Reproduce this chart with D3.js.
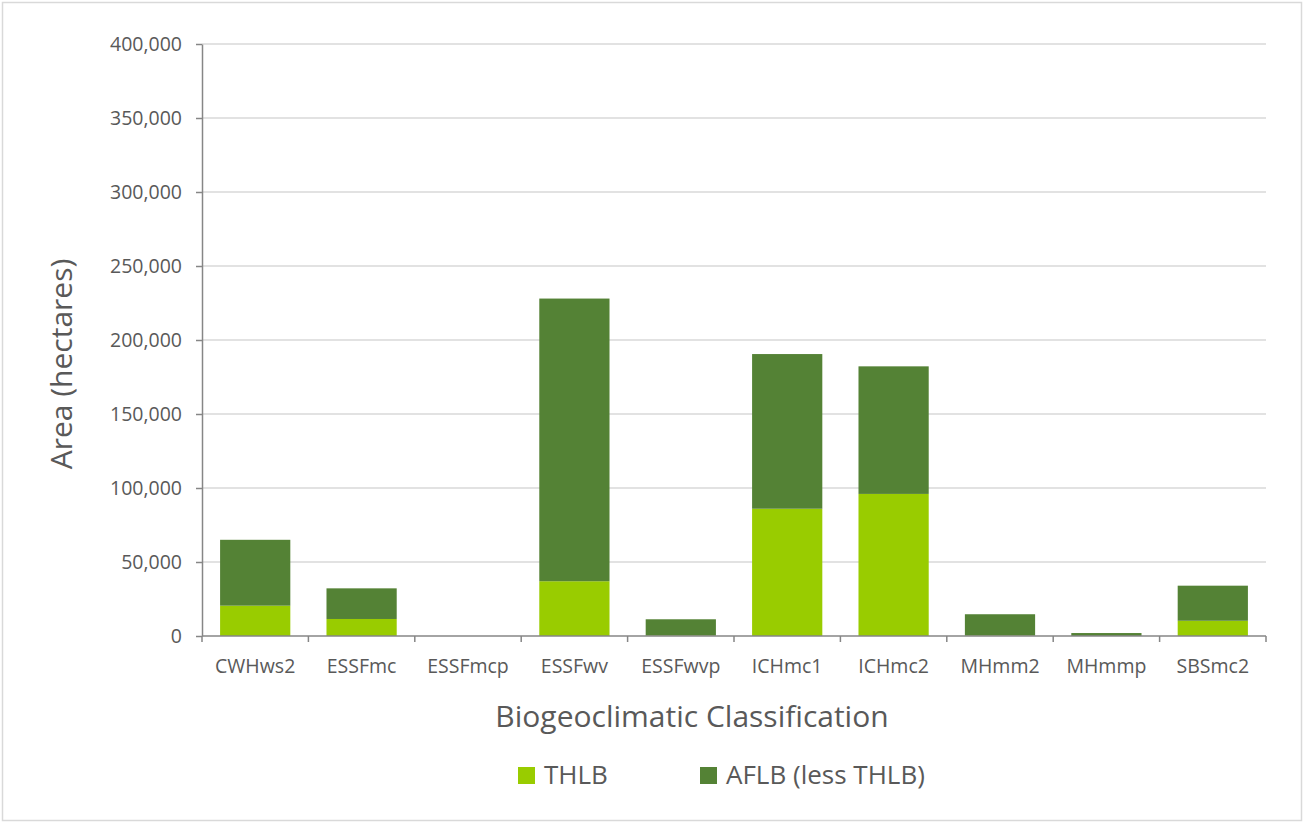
<!DOCTYPE html>
<html>
<head>
<meta charset="utf-8">
<script src="https://cdn.jsdelivr.net/npm/d3@7"></script>
<style>
  html, body { margin: 0; padding: 0; background: #fff; }
  svg { display: block; }
  text { font-family: "Open Sans", "Noto Sans", sans-serif; fill: #595959; }
</style>
</head>
<body>
<svg id="chart" width="1304" height="823"></svg>
<script>
// Biogeoclimatic zones and land-base areas (hectares)
const categories = ["CWHws2", "ESSFmc", "ESSFmcp", "ESSFwv", "ESSFwvp", "ICHmc1", "ICHmc2", "MHmm2", "MHmmp", "SBSmc2"];
const thlb = [20500, 11500, 0, 37000, 300, 86000, 96000, 300, 0, 10300];
const aflbLessThlb = [44500, 20700, 0, 191000, 11000, 104500, 86200, 14400, 2000, 23700];
const seriesNames = ["THLB", "AFLB (less THLB)"];
const seriesColors = ["#99cc00", "#548235"];
const yTicks = [0, 50000, 100000, 150000, 200000, 250000, 300000, 350000, 400000];

const svg = d3.select("#chart");
const W = 1304, H = 823;
const margin = { left: 202, right: 38, top: 44, bottom: 187 };
const plotW = W - margin.left - margin.right;
const plotH = H - margin.top - margin.bottom;

// outer frame
svg.append("rect")
  .attr("x", 2.5).attr("y", 2.5)
  .attr("width", W - 5).attr("height", H - 5)
  .attr("fill", "#fff").attr("stroke", "#d9d9d9").attr("stroke-width", 1.5);

const x = d3.scaleBand().domain(categories).range([0, plotW]).paddingInner(0.34).paddingOuter(0.17);
const y = d3.scaleLinear().domain([0, 400000]).range([plotH, 0]);

const g = svg.append("g").attr("transform", `translate(${margin.left},${margin.top})`);

// gridlines
g.append("g").selectAll("line").data(yTicks.filter(d => d > 0)).join("line")
  .attr("x1", 0).attr("x2", plotW)
  .attr("y1", d => y(d)).attr("y2", d => y(d))
  .attr("stroke", "#d9d9d9").attr("stroke-width", 1.5);

// stacked bars
const rows = categories.map((c, i) => ({ cat: c, THLB: thlb[i], "AFLB (less THLB)": aflbLessThlb[i] }));
const stacked = d3.stack().keys(seriesNames)(rows);

g.append("g").selectAll("g").data(stacked).join("g")
  .attr("fill", (d, i) => seriesColors[i])
  .selectAll("rect").data(d => d).join("rect")
  .attr("x", d => x(d.data.cat))
  .attr("width", x.bandwidth())
  .attr("y", d => y(d[1]))
  .attr("height", d => Math.max(0, y(d[0]) - y(d[1])));

// y axis
const yAxis = g.append("g")
  .call(d3.axisLeft(y).tickValues(yTicks).tickFormat(d3.format(",")).tickSize(6).tickSizeOuter(0));
yAxis.select(".domain").attr("stroke", "#868686").attr("stroke-width", 1.5);
yAxis.selectAll(".tick line").attr("stroke", "#868686").attr("stroke-width", 1.5);
yAxis.selectAll(".tick text")
  .attr("x", -20)
  .style("font-size", "19.5px").attr("fill", "#595959")
  .style("font-family", "'Open Sans', sans-serif");

// x axis with boundary ticks between categories
const xg = g.append("g").attr("transform", `translate(0,${plotH})`);
xg.append("line").attr("x1", 0).attr("x2", plotW).attr("stroke", "#868686").attr("stroke-width", 1.5);
xg.selectAll("line.tk").data(d3.range(categories.length + 1)).join("line")
  .attr("class", "tk")
  .attr("x1", i => i * plotW / categories.length).attr("x2", i => i * plotW / categories.length)
  .attr("y1", 0).attr("y2", 6)
  .attr("stroke", "#868686").attr("stroke-width", 1.5);
xg.selectAll("text").data(categories).join("text")
  .attr("x", d => x(d) + x.bandwidth() / 2)
  .attr("y", 37)
  .attr("text-anchor", "middle")
  .style("font-size", "19.5px")
  .text(d => d);

// axis titles
svg.append("text")
  .attr("x", 692).attr("y", 727)
  .attr("text-anchor", "middle")
  .style("font-size", "30px")
  .text("Biogeoclimatic Classification");

svg.append("text")
  .attr("transform", `translate(72,364) rotate(-90)`)
  .attr("text-anchor", "middle")
  .style("font-size", "30px")
  .text("Area (hectares)");

// legend
const legendX = [518, 700];
const lg = svg.append("g");
seriesNames.forEach((name, i) => {
  lg.append("rect")
    .attr("x", legendX[i]).attr("y", 767)
    .attr("width", 17).attr("height", 17)
    .attr("fill", seriesColors[i]);
  lg.append("text")
    .attr("x", legendX[i] + 26).attr("y", 784)
    .style("font-size", "26px")
    .text(name);
});
</script>
</body>
</html>
